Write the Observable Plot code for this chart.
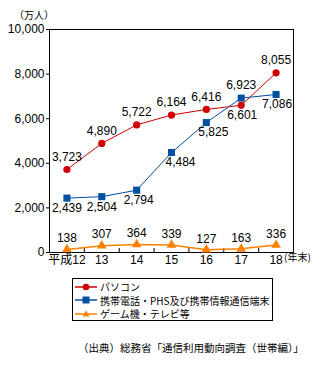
<!DOCTYPE html>
<html><head><meta charset="utf-8">
<script src="https://cdn.jsdelivr.net/npm/d3@7"></script>
<script src="https://cdn.jsdelivr.net/npm/@observablehq/plot@0.6"></script>
<style>
body{margin:0;background:#fff;}
#wrap{position:relative;width:328px;height:365px;font-family:"Liberation Sans","Noto Sans CJK JP",sans-serif;color:#000;}
#unit{position:absolute;left:14px;top:7px;font-size:10px;font-family:"Noto Sans CJK JP",sans-serif;}
#legend{position:absolute;left:72px;top:278px;width:201px;height:43px;border:1px solid #000;box-sizing:border-box;padding-top:1px;font-family:"Noto Sans CJK JP",sans-serif;font-size:10px;white-space:nowrap;}
.row{display:flex;align-items:center;height:13.5px;}
.row svg{margin-left:2px;margin-right:3px;flex:none;}
#caption{position:absolute;left:78px;top:340px;font-size:10.5px;font-family:"Noto Sans CJK JP",sans-serif;white-space:nowrap;}
</style></head>
<body><div id="wrap"><div id="chart"></div><div id="unit">（万人）</div><div id="legend"></div><div id="caption">（出典）総務省「通信利用動向調査（世帯編）」</div></div>
<script>
const years = [12, 13, 14, 15, 16, 17, 18];
const yearLabels = ["平成12", "13", "14", "15", "16", "17", "18"];
const seriesNames = ["パソコン", "携帯電話・PHS及び携帯情報通信端末", "ゲーム機・テレビ等"];
const pc = [3723, 4890, 5722, 6164, 6416, 6601, 8055];
const mobile = [2439, 2504, 2794, 4484, 5825, 6923, 7086];
const game = [138, 307, 364, 339, 127, 163, 336];
const yTicks = [0, 2000, 4000, 6000, 8000, 10000];
const colors = ["#d00000", "#0050a0", "#ff8000"];
const symbols = ["circle", "square", "triangle"];

const fmt = d3.format(",");
function rows(values, other, series) {
  return values.map((v, i) => {
    const above = other ? v >= other[i] : true;
    const prev = i > 0 ? values[i - 1] : v;
    let dx = 0;
    if (!above) dx = Math.round(Math.max(0, Math.min(9, (v - prev) / 190)));
    return {x: years[i], y: v, label: fmt(v), above, dx, series};
  });
}
const pcRows = rows(pc, mobile, 0);
const mobRows = rows(mobile, pc, 1);
const gameRows = rows(game, null, 2);
const all = [pcRows, mobRows, gameRows];
const bounds = years.slice(0, -1).map(d => d + 0.5);

const marks = [
  Plot.frame({stroke: "#000", strokeWidth: 1}),
  Plot.axisY({ticks: yTicks, tickFormat: fmt, tickSize: 3, tickPadding: 2, fontSize: 12, label: null}),
  Plot.axisX({ticks: years, tickFormat: d => yearLabels[years.indexOf(d)], tickSize: 0, tickPadding: 3, fontSize: 12, label: null}),
  Plot.tickX(bounds, {x: d => d, stroke: "#000", insetTop: 219}),
  Plot.text(["(年末)"], {x: () => years[years.length - 1], frameAnchor: "bottom", text: d => d, dy: 8, dx: 8, textAnchor: "start", fontSize: 10, fontFamily: "Noto Sans CJK JP"})
];
all.forEach((data, s) => {
  marks.push(Plot.line(data, {x: "x", y: "y", stroke: colors[s], strokeWidth: s === 2 ? 1.5 : 1}));
  marks.push(Plot.dot(data, {x: "x", y: "y", fill: colors[s], stroke: "none", symbol: symbols[s], r: s === 1 ? 4 : 3.6}));
});
all.forEach((data, s) => {
  data.forEach(d => {
    marks.push(Plot.text([d], {
      x: "x", y: "y", text: "label",
      dy: d.above ? (s === 2 ? -11 : -12.5) : 10,
      dx: d.dx,
      fontSize: 12
    }));
  });
});

const chart = Plot.plot({
  width: 328, height: 270,
  marginTop: 29, marginLeft: 49, marginRight: 35, marginBottom: 18,
  style: {fontFamily: "Liberation Sans, Noto Sans CJK JP, sans-serif", fontSize: "12px", color: "#000", background: "#fff"},
  x: {type: "linear", domain: [11.5, 18.5]},
  y: {domain: [0, 10000]},
  marks
});
document.getElementById("chart").appendChild(chart);

const leg = document.getElementById("legend");
seriesNames.forEach((name, s) => {
  const row = document.createElement("div");
  row.className = "row";
  let m;
  if (s === 0) m = `<circle cx="11" cy="6" r="3.3" fill="${colors[s]}"/>`;
  else if (s === 1) m = `<rect x="7.5" y="2.5" width="7" height="7" fill="${colors[s]}"/>`;
  else m = `<path d="M11,2.5 L14.5,8.5 L7.5,8.5 Z" fill="${colors[s]}"/>`;
  row.innerHTML = `<svg width="22" height="12"><line x1="0" x2="22" y1="6" y2="6" stroke="${colors[s]}" stroke-width="1.5"/>${m}</svg><span>${name}</span>`;
  leg.appendChild(row);
});
</script></body></html>
